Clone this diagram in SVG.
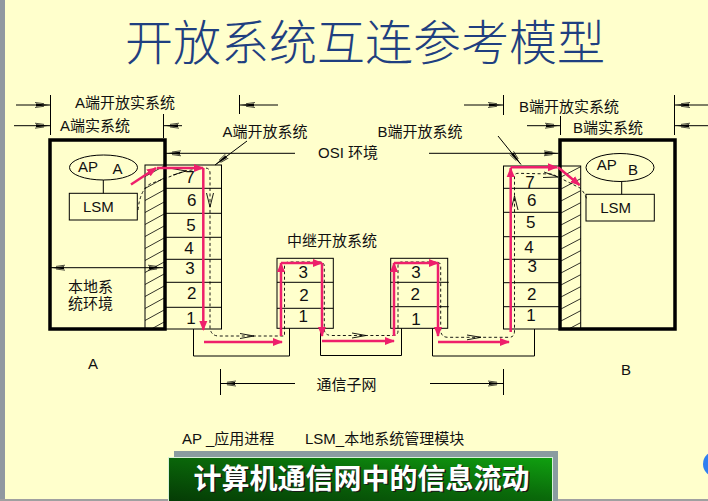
<svg xmlns="http://www.w3.org/2000/svg" width="708" height="501" viewBox="0 0 708 501">
<defs>
<style>
.t{font-family:"Liberation Sans","Noto Sans CJK SC",sans-serif;fill:#111;dominant-baseline:central;text-anchor:middle;font-size:15px}
.s{text-anchor:start}
.n{font-size:17px}
.thin{stroke:#000;stroke-width:1;fill:none}
.thick{stroke:#000;stroke-width:3.5;fill:none}
.red{stroke:#EE1F6B;stroke-width:2.5;fill:none;marker-end:url(#ra)}
.dash{stroke:#000;stroke-width:0.9;fill:none;stroke-dasharray:3,2.5}
.dim{stroke:#000;stroke-width:1;fill:none;marker-end:url(#da)}
.chev{stroke:#000;stroke-width:0.9;fill:none}
</style>
<marker id="ra" markerUnits="userSpaceOnUse" markerWidth="11" markerHeight="9" refX="9" refY="4.5" orient="auto"><path d="M0,0.5 L10,4.5 L0,8.5 z" fill="#EE1F6B"/></marker>
<marker id="da" markerUnits="userSpaceOnUse" markerWidth="16" markerHeight="7" refX="15" refY="3.5" orient="auto-start-reverse"><path d="M1,2 L15,3.5 L1,5 z" fill="#000"/><path d="M0,1 L9,2.2 M0,6 L9,4.8" stroke="#000" stroke-width="0.7"/></marker>
<pattern id="hA" x="145" y="165" width="20" height="12" patternUnits="userSpaceOnUse"><path d="M0,11.5 L20,0.5" stroke="#000" stroke-width="0.8"/></pattern>
<pattern id="hB" x="560" y="166" width="21" height="12" patternUnits="userSpaceOnUse"><path d="M0,11.5 L21,0.5" stroke="#000" stroke-width="0.8"/></pattern>
<linearGradient id="g" x1="0" y1="1" x2="1" y2="0"><stop offset="0" stop-color="#053A05"/><stop offset="0.55" stop-color="#0A6A0A"/><stop offset="1" stop-color="#10A010"/></linearGradient>
</defs>

<rect width="708" height="501" fill="#FFFFCC"/>
<rect x="0" y="0" width="5" height="501" fill="#9098A0"/>
<rect x="0" y="499" width="708" height="2" fill="#A0A0A0"/>
<circle cx="716" cy="464" r="13" fill="#2F80F0"/>

<text x="365" y="60" font-family="Noto Sans CJK SC, sans-serif" font-size="48" font-weight="300" fill="#1F3F80" text-anchor="middle">开放系统互连参考模型</text>

<g id="systemA">
<rect x="145" y="165" width="20" height="164" style="fill:url(#hA);stroke:#000;stroke-width:1"/>
<rect x="50" y="140" width="115" height="189" class="thick"/>
<ellipse cx="103.5" cy="167.5" rx="34" ry="12.5" class="thin"/>
<text class="t" x="88" y="166">AP</text>
<text class="t" x="117.5" y="168">A</text>
<line x1="103.3" y1="180" x2="103.3" y2="193.3" class="thin"/>
<rect x="69.3" y="193.3" width="68" height="26.7" class="thin"/>
<text class="t" x="98.3" y="206.7">LSM</text>
<text class="t" x="90.5" y="286" font-size="14">本地系</text>
<text class="t" x="90.5" y="303.3" font-size="14">统环境</text>
</g>

<g id="stackA">
<rect x="165" y="165" width="56.5" height="164" class="thin"/>
<path d="M165,188.3 H222 M165,213.3 H222 M165,237.3 H222 M165,259.3 H222 M165,282.3 H222 M165,307.3 H222" class="thin"/>
<g class="t n">
<text x="190" y="177.3">7</text><text x="191.7" y="200.7">6</text><text x="191" y="225">5</text><text x="189" y="248.3">4</text><text x="190" y="268.3">3</text><text x="191.7" y="293.3">2</text><text x="191" y="318.3">1</text>
</g>
</g>

<g id="relay1">
<rect x="277" y="258.3" width="56.3" height="70" class="thin"/>
<path d="M277,282.3 H333.3 M277,308.3 H333.3" class="thin"/>
<g class="t n"><text x="303.3" y="272.3">3</text><text x="304" y="295.7">2</text><text x="303.3" y="316">1</text></g>
</g>

<g id="relay2">
<rect x="390.7" y="258.3" width="57" height="70" class="thin"/>
<path d="M390.7,282.3 H448.7 M390.7,306.7 H448.7" class="thin"/>
<g class="t n"><text x="416" y="272.3">3</text><text x="415.3" y="294">2</text><text x="416" y="319.3">1</text></g>
</g>

<g id="stackB">
<rect x="503.5" y="166" width="56.5" height="163" class="thin"/>
<path d="M503.5,188.3 H560 M503.5,212.3 H560 M503.5,236.7 H560 M503.5,259.3 H560 M503.5,282.7 H560 M503.5,306.7 H560" class="thin"/>
<g class="t n">
<text x="530" y="182.3">7</text><text x="531.7" y="200.7">6</text><text x="530.7" y="222.7">5</text><text x="529" y="247.7">4</text><text x="532.3" y="266.7">3</text><text x="531.7" y="294.3">2</text><text x="531" y="315">1</text>
</g>
</g>

<g id="systemB">
<rect x="560" y="166" width="20.7" height="163" style="fill:url(#hB);stroke:#000;stroke-width:1"/>
<rect x="560" y="140" width="115" height="189" class="thick"/>
<ellipse cx="620" cy="167.5" rx="34" ry="14" class="thin"/>
<text class="t" x="606.7" y="164.7">AP</text>
<text class="t" x="633" y="169">B</text>
<line x1="621.7" y1="181.5" x2="621.7" y2="194.3" class="thin"/>
<rect x="586" y="194.3" width="68.3" height="26.7" class="thin"/>
<text class="t" x="615.7" y="207.5">LSM</text>
</g>

<g id="subnet">
<path d="M193.5,329 V356 H289.5 V328.3 M320.5,328.3 V355.5 H401.5 V328.3 M432.5,328.3 V356 H534.5 V329" class="thin"/>
</g>

<g id="labels">
<text class="t" x="125" y="102">A端开放实系统</text>
<text class="t" x="95" y="125.5">A端实系统</text>
<text class="t" x="265" y="131.5">A端开放系统</text>
<text class="t" x="348" y="152">OSI 环境</text>
<text class="t" x="420" y="131.5">B端开放系统</text>
<text class="t" x="569" y="106.5">B端开放实系统</text>
<text class="t" x="608" y="127.5">B端实系统</text>
<text class="t" x="332" y="240">中继开放系统</text>
<text class="t" x="346.5" y="384">通信子网</text>
<text class="t" x="93" y="363">A</text>
<text class="t" x="626" y="369">B</text>
<text class="t s" x="182" y="438">AP _应用进程</text>
<text class="t s" x="305" y="438">LSM_本地系统管理模块</text>
</g>

<g id="connectors">
<path d="M50.5,95 V135 M163.5,114 V138 M239.5,95 V114 M503.5,95 V115 M560.5,116 V135 M674.5,95 V135 M220.5,369 V395 M503.5,369 V395" class="thin"/>
<line x1="16" y1="105" x2="50" y2="105" class="dim"/>
<line x1="14" y1="125.7" x2="50" y2="125.7" class="dim"/>
<line x1="182" y1="125.7" x2="164" y2="125.7" class="dim"/>
<line x1="278" y1="105" x2="240" y2="105" class="dim"/>
<line x1="295" y1="153.3" x2="166" y2="153.3" class="dim"/>
<line x1="429" y1="153.3" x2="558.5" y2="153.3" class="dim"/>
<line x1="464" y1="105" x2="503" y2="105" class="dim"/>
<line x1="708" y1="105" x2="675" y2="105" class="dim"/>
<line x1="527" y1="125.7" x2="560" y2="125.7" class="dim"/>
<line x1="708" y1="125.7" x2="675" y2="125.7" class="dim"/>
<line x1="295" y1="383.5" x2="221" y2="383.5" class="dim"/>
<line x1="430" y1="383.5" x2="503" y2="383.5" class="dim"/>
<line x1="247" y1="141" x2="215" y2="165" class="dim"/>
<line x1="498" y1="136" x2="521" y2="164.5" class="dim"/>
<line x1="50" y1="267.7" x2="163" y2="267.7" class="dim" marker-start="url(#da)"/>

<path d="M138,210 Q140,190 150,184 L185,171 L205,168 Q210,168 210,173 L210,328 Q211,336 219,336 L284.5,336 L284.5,266 Q284.5,262 289,262 L320,262 Q324.3,262 324.3,267 L324.3,330 Q325,335.5 332,335.5 L393,335.5 Q398,335.5 398,331 L398,266 Q398,262 402,262 L436,262 Q440.7,262 440.7,266 L440.7,331 Q441.5,337.3 448,337.3 L509,337.3 Q514.5,337.3 514.5,331 L514.5,177 Q514.5,173.3 518,173.3 L552,174 L580,188 Q585,193 587,200" class="dash"/>
<path d="M172,168.5 L186,171 L173,175 M206.5,193 L210,207 L213.5,193 M240,333.5 L254,336 L240,338.5 M352,333 L366,335.5 L352,338 M467,335 L481,337.3 L467,339.8 M511,210 L514.5,196 L518,210 M544,172 L558,177 L543,177.5" class="chev"/>

<line x1="131" y1="184.5" x2="156" y2="168" class="red"/>
<line x1="157" y1="168" x2="203" y2="168" class="red"/>
<line x1="203.3" y1="168" x2="203.3" y2="330" class="red"/>
<line x1="204" y1="342" x2="282" y2="342" class="red"/>
<line x1="281" y1="336" x2="281" y2="263" class="red"/>
<line x1="281" y1="263" x2="322" y2="263" class="red"/>
<line x1="322" y1="263" x2="322" y2="336" class="red"/>
<line x1="322" y1="341" x2="394" y2="341" class="red"/>
<line x1="394" y1="336" x2="394" y2="263" class="red"/>
<line x1="394" y1="263" x2="438" y2="263" class="red"/>
<line x1="438" y1="263" x2="438" y2="336" class="red"/>
<line x1="438" y1="342" x2="509" y2="342" class="red"/>
<line x1="510.7" y1="332" x2="510.7" y2="168" class="red"/>
<line x1="510.7" y1="167.3" x2="557" y2="167.3" class="red"/>
<line x1="558" y1="167.3" x2="579.5" y2="185" class="red"/>
</g>

<g id="banner">
<rect x="174" y="451" width="384" height="50" fill="#8A9CA0"/>
<rect x="168.5" y="457.5" width="384" height="45" fill="url(#g)" stroke="#D8F0D8" stroke-width="1"/>
<text x="363" y="490" font-family="Noto Sans CJK SC, sans-serif" font-size="28" font-weight="bold" fill="#1A1A1A" text-anchor="middle">计算机通信网中的信息流动</text>
<text x="361.5" y="488.6" font-family="Noto Sans CJK SC, sans-serif" font-size="28" font-weight="bold" fill="#FFFFFF" text-anchor="middle">计算机通信网中的信息流动</text>
</g>
</svg>
